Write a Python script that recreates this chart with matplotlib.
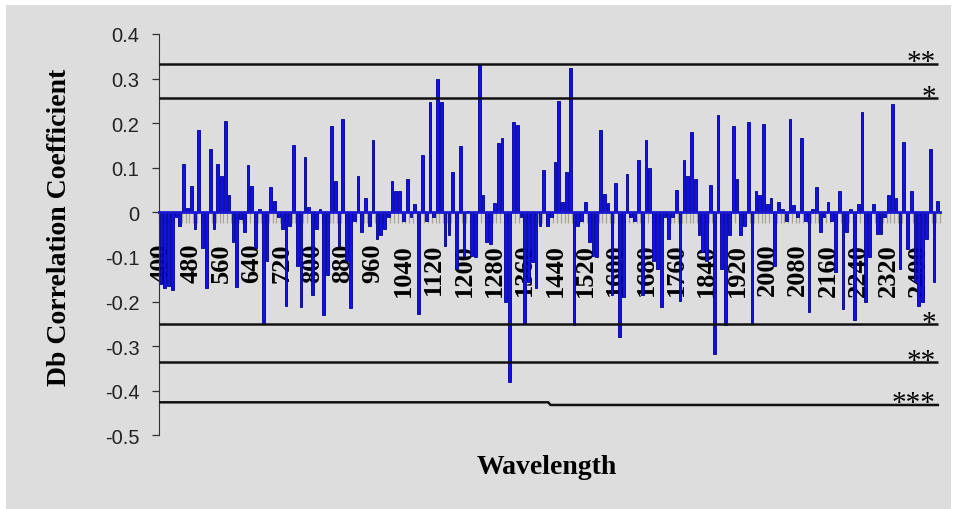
import matplotlib.pyplot as plt
import numpy as np
from matplotlib.patches import Rectangle

# categories: wavelength (nm), one bar every 10 nm
wavelength = np.arange(400, 2460, 10)

# Db correlation coefficient
db_corr = [
    -0.160, -0.170, -0.165, -0.175, -0.010, -0.030, 0.108, 0.010, 0.060, -0.037,
    0.185, -0.080, -0.170, 0.142, -0.037, 0.108, 0.082, 0.204, 0.038, -0.067,
    -0.168, -0.015, -0.045, 0.105, 0.060, -0.080, 0.008, -0.250, -0.110, 0.056,
    0.026, -0.010, -0.037, -0.210, -0.030, 0.151, -0.120, -0.213, 0.124, 0.012,
    -0.186, -0.037, 0.008, -0.231, -0.140, 0.194, 0.071, -0.075, 0.209, -0.110,
    -0.215, -0.020, 0.081, -0.045, 0.032, -0.030, 0.161, -0.060, -0.052, -0.037,
    -0.010, 0.071, 0.047, 0.047, -0.020, 0.075, -0.010, 0.019, -0.228, 0.129,
    -0.020, 0.247, -0.010, 0.300, 0.248, -0.075, -0.052, 0.090, -0.127, 0.148,
    -0.097, 0.004, -0.097, -0.100, 0.332, 0.038, -0.067, -0.070, 0.020, 0.155,
    0.166, -0.200, -0.380, 0.203, 0.196, -0.010, -0.250, -0.157, -0.112, -0.170,
    -0.030, 0.094, -0.030, -0.010, 0.112, 0.250, 0.023, 0.090, 0.323, -0.253,
    -0.030, -0.020, 0.023, -0.067, -0.097, -0.100, 0.185, 0.041, 0.020, -0.186,
    0.066, -0.280, -0.190, 0.085, -0.010, -0.020, 0.118, -0.186, 0.161, 0.099,
    -0.110, -0.127, -0.212, -0.010, -0.060, -0.010, 0.051, -0.198, 0.118, 0.081,
    0.181, 0.075, -0.050, -0.090, -0.110, 0.062, -0.317, 0.218, -0.127, -0.253,
    -0.050, 0.194, 0.075, -0.052, -0.030, 0.203, -0.250, 0.047, 0.038, 0.198,
    0.019, 0.032, -0.120, 0.023, 0.008, -0.020, 0.209, 0.017, -0.010, 0.166,
    -0.020, -0.224, 0.008, 0.056, -0.045, -0.010, 0.023, -0.020, -0.134, 0.047,
    -0.216, -0.045, 0.008, -0.242, 0.019, 0.224, -0.200, -0.100, 0.019, -0.048,
    -0.048, -0.010, 0.038, 0.243, 0.032, -0.127, 0.157, -0.082, 0.047, -0.157,
    -0.210, -0.200, -0.060, 0.142, -0.157, 0.026,
]

tick_labels = [400, 480, 560, 640, 720, 800, 880, 960, 1040, 1120, 1200, 1280,
               1360, 1440, 1520, 1600, 1680, 1760, 1840, 1920, 2000, 2080,
               2160, 2240, 2320, 2400]

# significance lines
sig_levels = [0.3325, 0.2556, -0.251, -0.336]
sig_marks = ['**', '*', '*', '**']
star3_left = -0.426
star3_right = -0.432
star3_break = 1420  # last wavelength of the left *** level

W, H = 955, 510
fig = plt.figure(figsize=(W / 100, H / 100), dpi=100)
fig.patch.set_facecolor('white')
fig.patches.append(Rectangle((6 / W, 0), (W - 10) / W, (H - 6) / H,
                             transform=fig.transFigure, facecolor='#dddddd',
                             edgecolor='none', zorder=-1))

ax = fig.add_axes([159 / W, 1 - 436.3 / H, 780.7 / W, 401.4 / H])
ax.set_facecolor('none')

x = np.arange(len(wavelength))
ax.bar(x, db_corr, width=0.72, color='#1010ee', edgecolor='#00008c',
       linewidth=0.6, zorder=3)

# significance lines
for lev, mark in zip(sig_levels, sig_marks):
    ax.hlines(lev, -0.5, x[-1], color='#111111', lw=1.8, zorder=4)
    ax.text(x[-1] - 0.5, lev - 0.012, mark, ha='right', va='baseline',
            fontfamily='Liberation Serif', fontsize=21, zorder=5)
ib = list(wavelength).index(star3_break)
ax.plot([-0.5, ib + 0.2, ib + 0.8, x[-1]],
        [star3_left, star3_left, star3_right, star3_right],
        color='#111111', lw=1.8, zorder=4)
ax.text(x[-1] - 0.5, star3_right - 0.012, '***', ha='right', va='baseline',
        fontfamily='Liberation Serif', fontsize=21, zorder=5)

ax.set_xlim(-0.5, len(x) - 0.5)
ax.set_ylim(-0.5, 0.4)

# axes styling
for s in ['top', 'right']:
    ax.spines[s].set_visible(False)
ax.spines['bottom'].set_position(('data', 0))
ax.spines['bottom'].set_color('#1a1ad0')
ax.spines['bottom'].set_linewidth(2)
ax.spines['bottom'].set_zorder(4)
ax.spines['left'].set_color('#333333')

pos = [list(wavelength).index(t) for t in tick_labels]
ax.set_xticks(pos)
ax.set_xticklabels([str(t) for t in tick_labels], rotation=90, va='top',
                   fontfamily='Liberation Serif', fontweight='bold', fontsize=19)
ax.set_xticks(np.arange(-0.5, len(x), 1), minor=True)
ax.tick_params(axis='x', which='major', length=0, pad=22)
ax.tick_params(axis='x', which='minor', length=8, width=0.9, color='#a8a48e')

yt = np.round(np.arange(-0.5, 0.41, 0.1), 1)
ax.set_yticks(yt)
ax.set_yticklabels(['0' if v == 0 else f'{v:g}' for v in yt],
                   fontfamily='Liberation Sans', fontsize=14.5, color='#222222')
ax.tick_params(axis='y', length=5, width=0.9, color='#333333', pad=9)

ax.set_ylabel('Db Correlation Coefficient', fontfamily='Liberation Serif',
              fontweight='bold', fontsize=20)
ax.yaxis.set_label_coords(-0.112, 0.52)
ax.set_xlabel('Wavelength', fontfamily='Liberation Serif', fontweight='bold',
              fontsize=20)
ax.xaxis.set_label_coords(0.497, -0.046)

fig.savefig('out.png', dpi=100)
